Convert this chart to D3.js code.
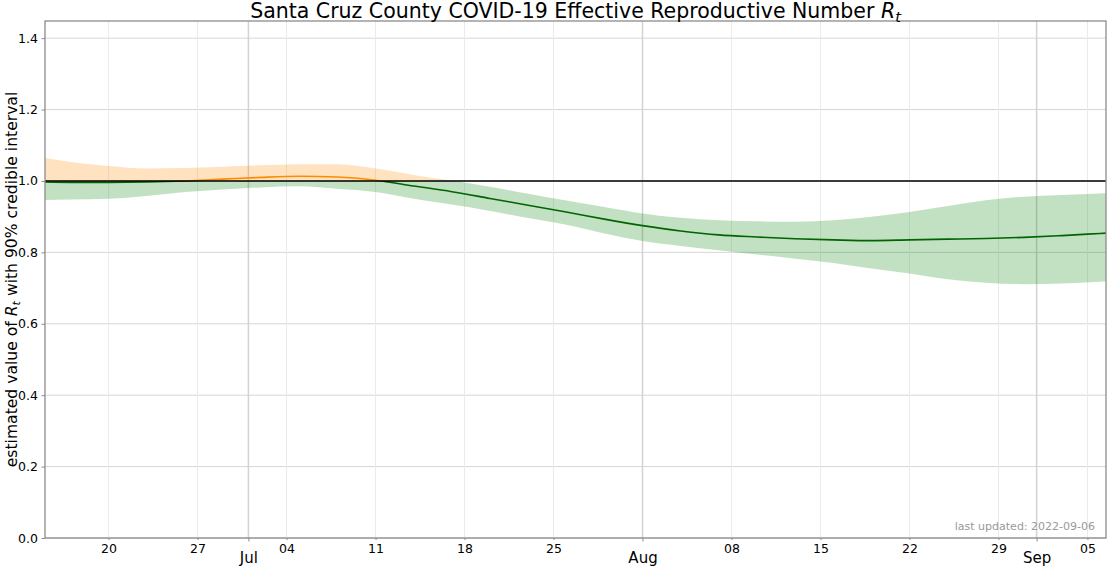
<!DOCTYPE html>
<html>
<head>
<meta charset="utf-8">
<script src="https://cdn.jsdelivr.net/npm/d3@7"></script>
<style>
  html, body { margin: 0; padding: 0; background: #fff; }
  svg { display: block; font-family: "DejaVu Sans", sans-serif; }
</style>
</head>
<body>
<svg id="chart" width="1110" height="568"></svg>
<script>
// ---- data ----
const dates = ["2022-06-15","2022-06-17","2022-06-20","2022-06-23","2022-06-26","2022-06-29",
  "2022-07-02","2022-07-05","2022-07-08","2022-07-11","2022-07-14","2022-07-17","2022-07-20",
  "2022-07-23","2022-07-26","2022-07-29","2022-08-01","2022-08-04","2022-08-07","2022-08-10",
  "2022-08-13","2022-08-16","2022-08-19","2022-08-22","2022-08-25","2022-08-28","2022-08-31",
  "2022-09-03","2022-09-06","2022-09-07"];
const rtMedian = [0.997,0.996,0.996,0.997,1.000,1.005,1.010,1.013,1.011,1.002,0.986,0.970,0.951,
  0.932,0.913,0.893,0.875,0.860,0.849,0.843,0.838,0.835,0.833,0.835,0.837,0.839,0.842,0.847,0.853,0.855];
const rtUpper = [1.064,1.053,1.042,1.035,1.036,1.040,1.044,1.047,1.047,1.035,1.017,1.001,0.984,
  0.964,0.945,0.927,0.909,0.897,0.890,0.887,0.886,0.890,0.900,0.913,0.930,0.946,0.956,0.961,0.965,0.966];
const rtLower = [0.947,0.948,0.950,0.958,0.969,0.976,0.982,0.985,0.978,0.969,0.950,0.934,0.916,
  0.896,0.877,0.853,0.832,0.818,0.806,0.794,0.782,0.770,0.755,0.741,0.725,0.715,0.711,0.713,0.718,0.719];
const yTicks = [0.0,0.2,0.4,0.6,0.8,1.0,1.2,1.4];
const xStart = "2022-06-15T00:00:00Z";
const xEnd = "2022-09-06T11:00:00Z";
const threshold = 1.0;
const yMax = 1.448;
const titleText = "Santa Cruz County COVID-19 Effective Reproductive Number ";
const yLabelPre = "estimated value of ";
const yLabelPost = " with 90% credible interval";
const updatedText = "last updated: 2022-09-06";

// ---- layout ----
const margin = {left: 45, right: 4, top: 21, bottom: 30};
const W = 1110, H = 568;
const iw = W - margin.left - margin.right;
const ih = H - margin.top - margin.bottom;

const parse = d3.utcParse("%Y-%m-%d");
const rows = dates.map((d, i) => ({date: parse(d), med: rtMedian[i], hi: rtUpper[i], lo: rtLower[i]}));

const svg = d3.select("#chart");
const g = svg.append("g").attr("transform", `translate(${margin.left},${margin.top})`);

const x = d3.scaleUtc().domain([new Date(xStart), new Date(xEnd)]).range([0, iw]);
const y = d3.scaleLinear().domain([0, yMax]).range([ih, 0]);

// grid
const months = d3.utcMonth.range(d3.utcDay.offset(x.domain()[0], 1), x.domain()[1]);
const weeks = d3.utcMonday.range(x.domain()[0], x.domain()[1])
  .filter(d => d.getUTCDate() !== 1);

g.append("g").selectAll("line").data(yTicks).join("line")
  .attr("x1", 0).attr("x2", iw)
  .attr("y1", d => y(d)).attr("y2", d => y(d))
  .attr("stroke", "#d6d6d6").attr("stroke-width", 1);
g.append("g").selectAll("line").data(weeks).join("line")
  .attr("x1", d => x(d)).attr("x2", d => x(d))
  .attr("y1", 0).attr("y2", ih)
  .attr("stroke", "#ebebeb").attr("stroke-width", 1);
g.append("g").selectAll("line").data(months).join("line")
  .attr("x1", d => x(d)).attr("x2", d => x(d))
  .attr("y1", 0).attr("y2", ih)
  .attr("stroke", "#d2d2d2").attr("stroke-width", 1.5);

// clip paths
const defs = svg.append("defs");
defs.append("clipPath").attr("id", "above").append("rect")
  .attr("x", 0).attr("y", 0).attr("width", iw).attr("height", y(threshold));
defs.append("clipPath").attr("id", "below").append("rect")
  .attr("x", 0).attr("y", y(threshold)).attr("width", iw).attr("height", ih - y(threshold));

const curve = d3.curveMonotoneX;
const area = d3.area().x(d => x(d.date)).y0(d => y(d.lo)).y1(d => y(d.hi)).curve(curve);
const line = d3.line().x(d => x(d.date)).y(d => y(d.med)).curve(curve);

g.append("path").datum(rows).attr("d", area)
  .attr("fill", "rgba(255,140,0,0.25)").attr("clip-path", "url(#above)");
g.append("path").datum(rows).attr("d", area)
  .attr("fill", "rgba(0,128,0,0.24)").attr("clip-path", "url(#below)");
g.append("path").datum(rows).attr("d", line)
  .attr("fill", "none").attr("stroke", "#ff8c00").attr("stroke-width", 1.6)
  .attr("clip-path", "url(#above)");
g.append("path").datum(rows).attr("d", line)
  .attr("fill", "none").attr("stroke", "#006400").attr("stroke-width", 1.6)
  .attr("clip-path", "url(#below)");

// threshold line
g.append("line").attr("x1", 0).attr("x2", iw)
  .attr("y1", y(threshold)).attr("y2", y(threshold))
  .attr("stroke", "#000").attr("stroke-width", 1.6);

// frame
g.append("rect").attr("x", 0).attr("y", 0).attr("width", iw).attr("height", ih)
  .attr("fill", "none").attr("stroke", "#8c8c8c").attr("stroke-width", 1.3);

// y axis
const yAxis = d3.axisLeft(y).tickValues(yTicks).tickFormat(d3.format(".1f")).tickSize(3.5).tickPadding(3.5);
const ya = g.append("g").call(yAxis);
ya.select(".domain").remove();
ya.selectAll(".tick line").attr("stroke", "#8c8c8c");
ya.selectAll(".tick text").attr("font-size", 12.5).attr("fill", "#000").attr("font-family", "DejaVu Sans");

// x axis: weekly minor labels
const xMinor = d3.axisBottom(x).tickValues(weeks).tickFormat(d3.utcFormat("%d")).tickSize(2).tickPadding(4);
const xa = g.append("g").attr("transform", `translate(0,${ih})`).call(xMinor);
xa.select(".domain").remove();
xa.selectAll(".tick line").attr("stroke", "#8c8c8c");
xa.selectAll(".tick text").attr("font-size", 12.5).attr("fill", "#000").attr("font-family", "DejaVu Sans");

// x axis: months major labels
const xMajor = d3.axisBottom(x).tickValues(months).tickFormat(d3.utcFormat("%b")).tickSize(3.5).tickPadding(11);
const xm = g.append("g").attr("transform", `translate(0,${ih})`).call(xMajor);
xm.select(".domain").remove();
xm.selectAll(".tick line").attr("stroke", "#8c8c8c");
xm.selectAll(".tick text").attr("font-size", 15).attr("fill", "#000").attr("font-family", "DejaVu Sans");

// title
const title = svg.append("text").attr("x", margin.left + iw / 2).attr("y", 18)
  .attr("text-anchor", "middle").attr("font-size", 20.5).attr("fill", "#000");
title.append("tspan").text(titleText);
title.append("tspan").attr("font-style", "italic").text("R");
title.append("tspan").attr("font-style", "italic")
  .attr("font-size", 14.5).attr("dy", 3.5).text("t");

// y label
const yl = svg.append("text")
  .attr("transform", `translate(17,${margin.top + ih / 2}) rotate(-90)`)
  .attr("text-anchor", "middle").attr("font-size", 15.6).attr("fill", "#000");
yl.append("tspan").text(yLabelPre);
yl.append("tspan").attr("font-style", "italic").text("R");
yl.append("tspan").attr("font-style", "italic")
  .attr("font-size", 11).attr("dy", 3).text("t");
yl.append("tspan").attr("dy", -3).text(yLabelPost);

// last updated
g.append("text").attr("x", iw - 11).attr("y", ih - 8)
  .attr("text-anchor", "end").attr("font-size", 11).attr("fill", "#999").text(updatedText);
</script>
</body>
</html>
